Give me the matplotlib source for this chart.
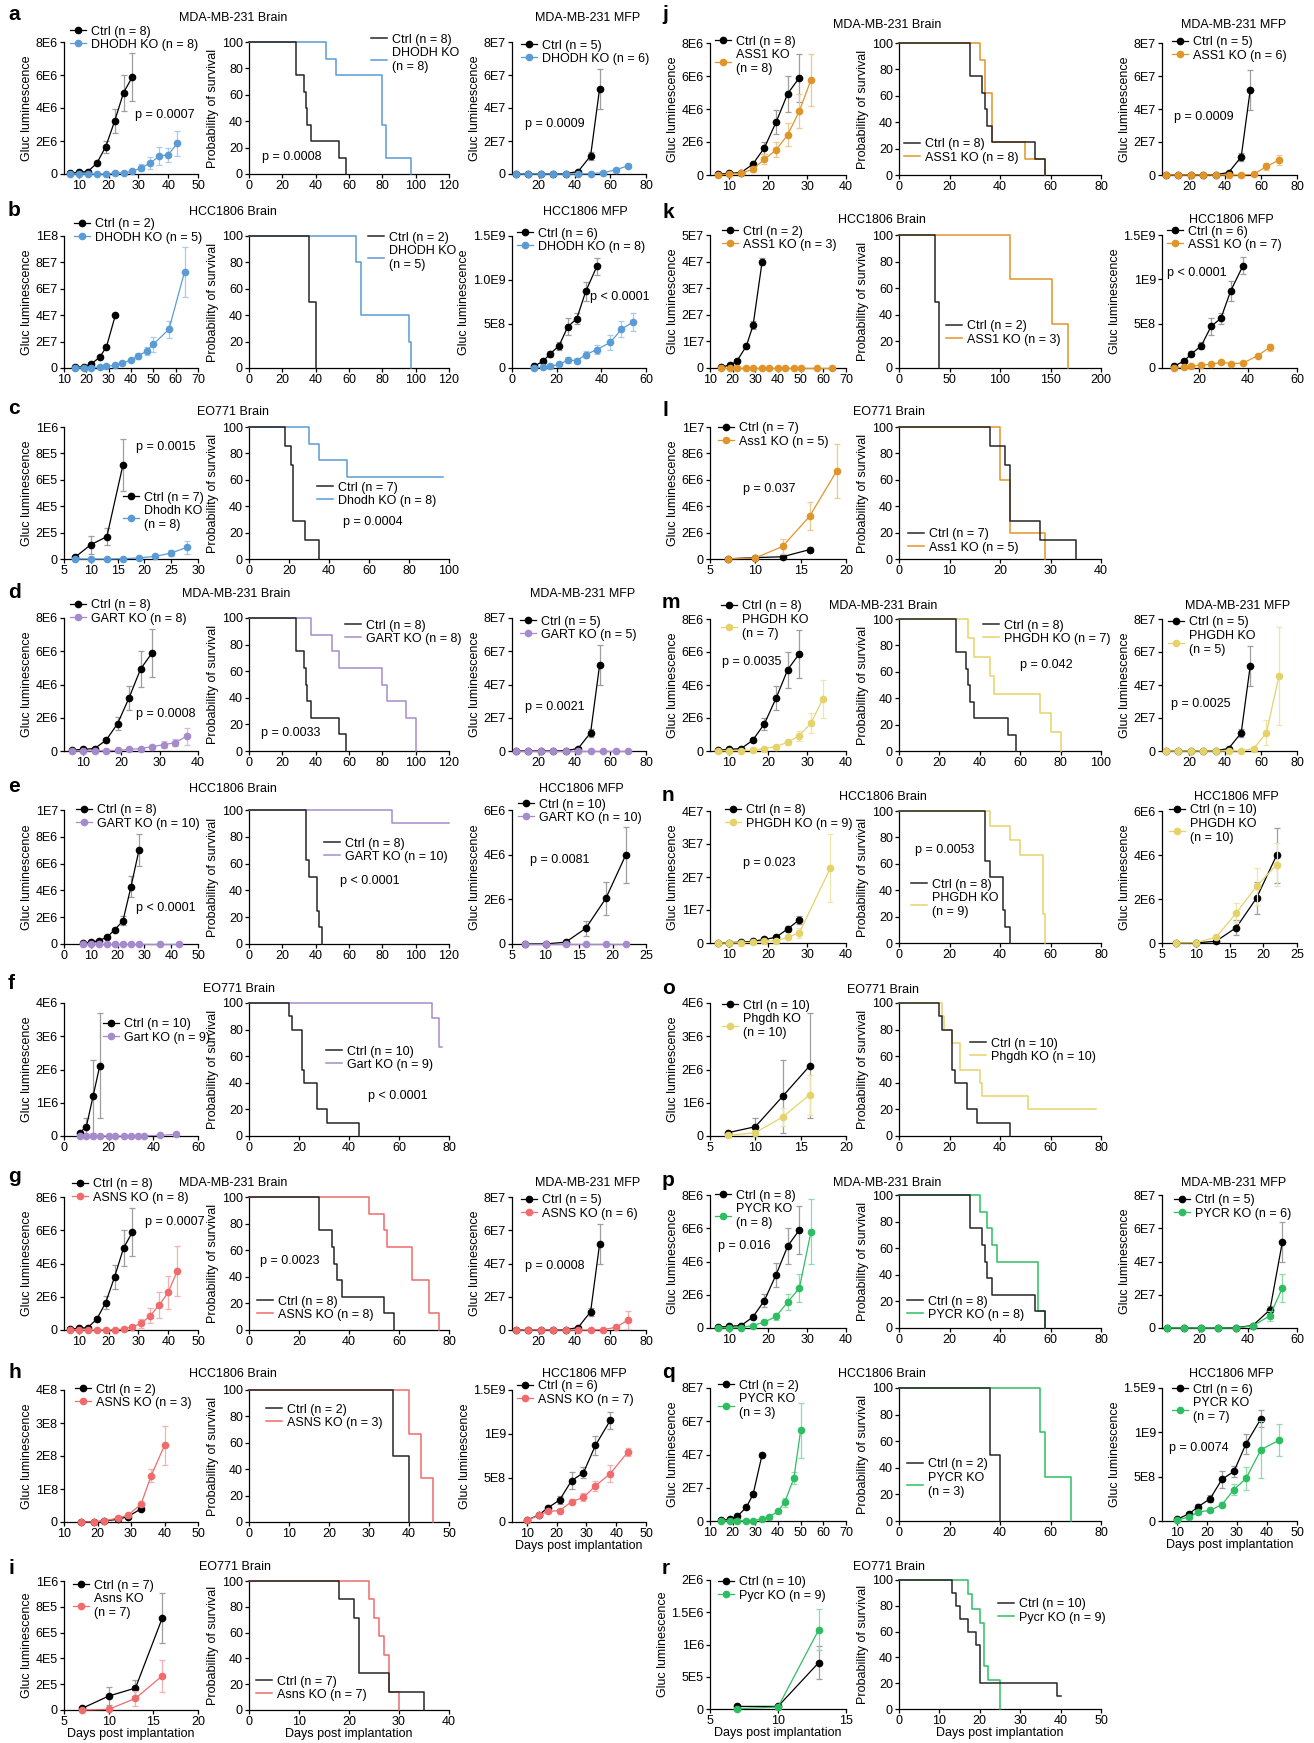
import matplotlib
matplotlib.use('Agg')
import matplotlib.pyplot as plt
from matplotlib.lines import Line2D

plt.rcParams['font.family'] = ['Liberation Sans', 'DejaVu Sans']
FS = 9.0
W, H = 1314, 1743
fig = plt.figure(figsize=(W / 100, H / 100), dpi=100)

# ======================= DATA =======================
# --- MDA-MB-231 brain growth (units of 1E6) ---
mda_br_ctrl_day = [7, 10, 13, 16, 19, 22, 25, 28]
mda_br_ctrl_mean = [0.05, 0.1, 0.15, 0.65, 1.65, 3.2, 4.93, 5.9]
mda_br_ctrl_err = [0.02, 0.04, 0.06, 0.12, 0.38, 0.72, 1.1, 1.45]
dhodh_mda_br_day = [7, 10, 13, 16, 19, 22, 25, 28, 31, 34, 37, 40, 43]
dhodh_mda_br_mean = [0, 0, 0, 0, 0, 0.04, 0.08, 0.16, 0.38, 0.67, 1.09, 1.17, 1.85]
dhodh_mda_br_err = [0, 0, 0, 0, 0, 0.01, 0.02, 0.05, 0.2, 0.35, 0.55, 0.42, 0.75]
gart_mda_br_day = [7, 10, 13, 16, 19, 22, 25, 28, 31, 34, 37]
gart_mda_br_mean = [0, 0, 0, 0.02, 0.04, 0.1, 0.14, 0.26, 0.38, 0.5, 0.89]
gart_mda_br_err = [0, 0, 0, 0.01, 0.02, 0.03, 0.05, 0.1, 0.2, 0.22, 0.5]
asns_mda_br_day = [7, 10, 13, 16, 19, 22, 25, 28, 31, 34, 37, 40, 43]
asns_mda_br_mean = [0, 0, 0, 0, 0, 0.02, 0.05, 0.2, 0.4, 0.87, 1.5, 2.27, 3.54]
asns_mda_br_err = [0, 0, 0, 0, 0, 0.01, 0.02, 0.1, 0.25, 0.45, 0.77, 1.0, 1.5]
ass1_mda_br_day = [7, 10, 13, 16, 19, 22, 25, 28, 31]
ass1_mda_br_mean = [0.01, 0.05, 0.1, 0.35, 0.95, 1.52, 2.44, 3.88, 5.78]
ass1_mda_br_err = [0.01, 0.02, 0.04, 0.15, 0.3, 0.45, 0.7, 1.05, 1.58]
phgdh_mda_br_day = [7, 10, 13, 16, 19, 22, 25, 28, 31, 34]
phgdh_mda_br_mean = [0, 0.02, 0.03, 0.06, 0.15, 0.27, 0.53, 0.93, 1.7, 3.13]
phgdh_mda_br_err = [0, 0.01, 0.01, 0.02, 0.05, 0.08, 0.15, 0.3, 0.62, 1.15]
pycr_mda_br_day = [7, 10, 13, 16, 19, 22, 25, 28, 31]
pycr_mda_br_mean = [0.01, 0.01, 0.02, 0.15, 0.35, 0.7, 1.56, 2.4, 5.8]
pycr_mda_br_err = [0.01, 0.01, 0.01, 0.05, 0.1, 0.2, 0.5, 0.82, 1.95]

# --- MDA-MB-231 MFP growth (units of 1E7) ---
mda_mfp_ctrl_day = [7, 14, 21, 28, 35, 42, 49, 54]
mda_mfp_ctrl_mean = [0, 0, 0, 0, 0.02, 0.15, 1.1, 5.15]
mda_mfp_ctrl_err = [0, 0, 0, 0, 0.01, 0.05, 0.25, 1.2]
mda_mfp_ko_day = [7, 14, 21, 28, 35, 42, 49, 56, 63, 70]
dhodh_mda_mfp_mean = [0, 0, 0, 0, 0, 0, 0.02, 0.08, 0.25, 0.5]
dhodh_mda_mfp_err = [0, 0, 0, 0, 0, 0, 0.01, 0.03, 0.07, 0.12]
gart_mda_mfp_mean = [0, 0, 0, 0, 0, 0, 0, 0, 0, 0]
gart_mda_mfp_err = [0, 0, 0, 0, 0, 0, 0, 0, 0, 0]
asns_mda_mfp_mean = [0, 0, 0, 0, 0, 0, 0, 0.02, 0.16, 0.6]
asns_mda_mfp_err = [0, 0, 0, 0, 0, 0, 0, 0.01, 0.05, 0.55]
ass1_mda_mfp_mean = [0, 0, 0, 0, 0, 0, 0, 0.04, 0.52, 0.9]
ass1_mda_mfp_err = [0, 0, 0, 0, 0, 0, 0, 0.02, 0.22, 0.3]
phgdh_mda_mfp_mean = [0, 0, 0, 0, 0, 0, 0, 0.15, 1.1, 4.55]
phgdh_mda_mfp_err = [0, 0, 0, 0, 0, 0, 0, 0.05, 0.75, 2.95]
pycr_mda_mfp_day = [7, 14, 21, 28, 35, 42, 49, 54]
pycr_mda_mfp_mean = [0, 0, 0, 0, 0, 0.12, 0.75, 2.4]
pycr_mda_mfp_err = [0, 0, 0, 0, 0, 0.05, 0.3, 0.82]

# --- HCC1806 brain growth, Ctrl n = 2 (units of 1E7) ---
hcc_br_ctrl_day = [15, 19, 22, 26, 29, 33]
hcc_br_ctrl_mean = [0.05, 0.1, 0.28, 0.82, 1.6, 4.0]
hcc_br_ctrl_err = [0.02, 0.03, 0.05, 0.08, 0.15, 0.12]
dhodh_hcc_br_day = [15, 19, 22, 26, 29, 33, 36, 40, 43, 47, 50, 57, 64]
dhodh_hcc_br_mean = [0, 0.02, 0.03, 0.08, 0.15, 0.2, 0.38, 0.6, 0.9, 1.27, 1.8, 2.94, 7.3]
dhodh_hcc_br_err = [0, 0.01, 0.01, 0.02, 0.03, 0.05, 0.08, 0.1, 0.2, 0.3, 0.55, 0.65, 1.9]
asns_hcc_br_day = [15, 19, 22, 26, 29, 33, 36, 40]
asns_hcc_br_mean = [0, 0.05, 0.3, 1.2, 2.0, 5.4, 14.0, 23.2]
asns_hcc_br_err = [0, 0.02, 0.1, 0.3, 0.4, 0.5, 2.0, 6.0]
ass1_hcc_br_day = [15, 19, 22, 26, 29, 33, 36, 40, 43, 47, 50, 57, 64]
ass1_hcc_br_mean = [0, 0, 0, 0, 0, 0, 0, 0, 0, 0, 0, 0, 0]
ass1_hcc_br_err = [0, 0, 0, 0, 0, 0, 0, 0, 0, 0, 0, 0, 0]
pycr_hcc_br_day = [15, 19, 22, 26, 29, 33, 36, 40, 43, 47, 50]
pycr_hcc_br_mean = [0, 0, 0, 0.01, 0.03, 0.12, 0.24, 0.58, 1.14, 2.58, 5.45]
pycr_hcc_br_err = [0, 0, 0, 0, 0.01, 0.03, 0.05, 0.1, 0.27, 0.38, 1.65]

# --- HCC1806 MFP growth, Ctrl n = 6 (units of 1E9) ---
hcc_mfp_ctrl_day = [10, 14, 17, 21, 25, 29, 33, 38]
hcc_mfp_ctrl_mean = [0.02, 0.08, 0.16, 0.25, 0.47, 0.56, 0.87, 1.155]
hcc_mfp_ctrl_err = [0.01, 0.015, 0.03, 0.04, 0.095, 0.065, 0.11, 0.1]
dhodh_hcc_mfp_day = [10, 14, 17, 21, 25, 29, 33, 38, 44, 49, 54]
dhodh_hcc_mfp_mean = [0, 0.01, 0.02, 0.04, 0.09, 0.085, 0.15, 0.21, 0.29, 0.44, 0.52]
dhodh_hcc_mfp_err = [0, 0.005, 0.01, 0.01, 0.03, 0.03, 0.04, 0.05, 0.08, 0.09, 0.1]
asns_hcc_mfp_day = [10, 14, 17, 21, 25, 29, 33, 38, 44]
asns_hcc_mfp_mean = [0.02, 0.075, 0.12, 0.13, 0.23, 0.28, 0.41, 0.55, 0.8]
asns_hcc_mfp_err = [0.01, 0.01, 0.02, 0.02, 0.03, 0.045, 0.06, 0.1, 0.045]
ass1_hcc_mfp_day = [10, 14, 17, 21, 25, 29, 33, 38, 44, 49]
ass1_hcc_mfp_mean = [0, 0.01, 0.02, 0.035, 0.04, 0.065, 0.05, 0.055, 0.14, 0.235]
ass1_hcc_mfp_err = [0, 0, 0.005, 0.01, 0.01, 0.015, 0.01, 0.01, 0.02, 0.04]
pycr_hcc_mfp_day = [10, 14, 17, 21, 25, 29, 33, 38, 44]
pycr_hcc_mfp_mean = [0.01, 0.045, 0.1, 0.12, 0.185, 0.355, 0.48, 0.805, 0.91]
pycr_hcc_mfp_err = [0.005, 0.01, 0.02, 0.02, 0.03, 0.06, 0.13, 0.32, 0.18]

# --- EO771 brain growth, Ctrl n = 7 (units of 1E6) ---
eo7_ctrl_day = [7, 10, 13, 16]
eo7_ctrl_mean = [0.012, 0.108, 0.17, 0.713]
eo7_ctrl_err = [0.005, 0.07, 0.065, 0.195]
dhodh_eo_day = [7, 10, 13, 16, 19, 22, 25, 28]
dhodh_eo_mean = [0, 0, 0, 0.002, 0.008, 0.02, 0.045, 0.09]
dhodh_eo_err = [0, 0, 0, 0.001, 0.003, 0.008, 0.02, 0.05]
asns_eo_day = [7, 10, 13, 16]
asns_eo_mean = [0, 0.005, 0.09, 0.265]
asns_eo_err = [0, 0.005, 0.06, 0.125]
ass1_eo_day = [7, 10, 13, 16, 19]
ass1_eo_mean = [0.01, 0.08, 0.95, 3.25, 6.7]
ass1_eo_err = [0.005, 0.03, 0.6, 1.07, 2.05]

# --- EO771 brain growth, Ctrl n = 10 (units of 1E6) ---
eo10_ctrl_day = [7, 10, 13, 16]
eo10_ctrl_mean = [0.1, 0.28, 1.19, 2.11]
eo10_ctrl_err = [0.03, 0.25, 1.09, 1.58]
gart_eo_day = [7, 10, 13, 16, 20, 23, 27, 30, 33, 36, 43, 50]
gart_eo_mean = [0, 0, 0, 0, 0, 0, 0, 0, 0, 0.01, 0.02, 0.05]
gart_eo_err = [0, 0, 0, 0, 0, 0, 0, 0, 0, 0.005, 0.01, 0.02]
phgdh_eo_day = [7, 10, 13, 16]
phgdh_eo_mean = [0.02, 0.1, 0.57, 1.24]
phgdh_eo_err = [0.01, 0.05, 0.27, 0.6]
eor_ctrl_day = [7, 10, 13]
eor_ctrl_mean = [0.04, 0.04, 0.72]
eor_ctrl_err = [0.01, 0.01, 0.26]
pycr_eo_day = [7, 10, 13]
pycr_eo_mean = [0.005, 0.03, 1.23]
pycr_eo_err = [0.003, 0.01, 0.32]

# --- HCC1806 brain growth, Ctrl n = 8 (units of 1E6) ---
hcc8_ctrl_day = [7, 10, 13, 16, 19, 22, 25, 28]
hcc8_ctrl_mean = [0.07, 0.12, 0.25, 0.5, 1.08, 1.73, 4.28, 7.03]
hcc8_ctrl_err = [0.02, 0.03, 0.05, 0.1, 0.15, 0.33, 0.8, 1.2]
gart_hcc_br_day = [7, 10, 13, 16, 19, 22, 25, 28, 36, 43]
gart_hcc_br_mean = [0, 0, 0, 0, 0, 0, 0, 0, 0, 0]
gart_hcc_br_err = [0, 0, 0, 0, 0, 0, 0, 0, 0, 0]
phgdh_hcc_br_day = [7, 10, 13, 16, 19, 22, 25, 28, 36]
phgdh_hcc_br_mean = [0, 0, 0.1, 0.2, 0.5, 0.7, 1.7, 3.1, 22.8]
phgdh_hcc_br_err = [0, 0, 0.02, 0.05, 0.1, 0.15, 0.4, 1.5, 10.3]

# --- HCC1806 MFP growth, Ctrl n = 10 (units of 1E6) ---
hcc10_mfp_ctrl_day = [7, 10, 13, 16, 19, 22]
hcc10_mfp_ctrl_mean = [0, 0.005, 0.08, 0.7, 2.04, 4.0]
hcc10_mfp_ctrl_err = [0, 0.002, 0.03, 0.34, 0.72, 1.25]
gart_hcc_mfp_mean = [0, 0, 0, 0, 0, 0]
gart_hcc_mfp_err = [0, 0, 0, 0, 0, 0]
phgdh_hcc_mfp_mean = [0, 0.01, 0.26, 1.36, 2.58, 3.56]
phgdh_hcc_mfp_err = [0, 0.005, 0.08, 0.47, 0.85, 0.98]

# --- Survival (day, % surviving) ---
mda_ctrl_st = [0, 28, 33, 34, 35, 37, 54, 58]
mda_ctrl_sv = [100, 75, 62.5, 50, 37.5, 25, 12.5, 0]
dhodh_mda_st = [0, 46, 52, 80, 82, 97]
dhodh_mda_sv = [100, 87.5, 75, 37.5, 12.5, 0]
gart_mda_st = [0, 37, 50, 54, 80, 83, 94, 100]
gart_mda_sv = [100, 87.5, 75, 62.5, 50, 37.5, 25, 0]
asns_mda_st = [0, 48, 54, 55, 65, 72, 76]
asns_mda_sv = [100, 87.5, 75, 62.5, 37.5, 12.5, 0]
ass1_mda_st = [0, 32, 34, 37, 50, 58]
ass1_mda_sv = [100, 87.5, 62.5, 25, 12.5, 0]
phgdh_mda_st = [0, 34, 37, 45, 47, 70, 75, 80]
phgdh_mda_sv = [100, 85.7, 71.4, 57.1, 42.9, 28.6, 14.3, 0]
pycr_mda_st = [0, 32, 35, 37, 39, 55, 58]
pycr_mda_sv = [100, 87.5, 75, 62.5, 50, 12.5, 0]

hcc2_ctrl_st = [0, 36, 40]
hcc2_ctrl_sv = [100, 50, 0]
dhodh_hcc_st = [0, 64, 67, 96, 97]
dhodh_hcc_sv = [100, 80, 40, 20, 0]
asns_hcc_st = [0, 40, 43, 46]
asns_hcc_sv = [100, 66.7, 33.3, 0]
ass1_hcc_st = [0, 110, 151, 167]
ass1_hcc_sv = [100, 66.7, 33.3, 0]
pycr_hcc_st = [0, 56, 58, 68]
pycr_hcc_sv = [100, 66.7, 33.3, 0]

eo7_ctrl_st = [0, 18, 21, 22, 28, 35]
eo7_ctrl_sv = [100, 85.7, 71.4, 28.6, 14.3, 0]
dhodh_eo_st = [0, 30, 35, 49, 97]
dhodh_eo_sv = [100, 87.5, 75, 62.5, 62.5]
asns_eo_st = [0, 24, 25, 26, 27, 28, 30]
asns_eo_sv = [100, 85.7, 71.4, 57.1, 42.9, 14.3, 0]
ass1_eo_st = [0, 20, 22, 29]
ass1_eo_sv = [100, 60, 20, 0]

hcc8_ctrl_st = [0, 34, 36, 41, 42, 44]
hcc8_ctrl_sv = [100, 62.5, 50, 25, 12.5, 0]
gart_hcc_st = [0, 86, 120]
gart_hcc_sv = [100, 90, 90]
phgdh_hcc_st = [0, 36, 44, 48, 57, 58]
phgdh_hcc_sv = [100, 88.9, 77.8, 66.7, 22.2, 0]

eo10_ctrl_st = [0, 16, 17, 21, 22, 27, 31, 44]
eo10_ctrl_sv = [100, 90, 80, 50, 40, 20, 10, 0]
gart_eo_st = [0, 73, 76, 77]
gart_eo_sv = [100, 88.9, 66.7, 66.7]
phgdh_eo_st = [0, 17, 18, 21, 24, 32, 33, 51, 78]
phgdh_eo_sv = [100, 90, 80, 70, 50, 40, 30, 20, 20]
eor_ctrl_st = [0, 13, 14, 15, 17, 19, 20, 39, 40]
eor_ctrl_sv = [100, 90, 80, 70, 60, 50, 20, 10, 10]
pycr_eo_st = [0, 17, 18, 20, 21, 22, 25]
pycr_eo_sv = [100, 88.9, 77.8, 66.7, 33.3, 22.2, 0]

# --- tick labels ---
yl_8e6 = ['0', '2E6', '4E6', '6E6', '8E6']
yl_8e7 = ['0', '2E7', '4E7', '6E7', '8E7']
yl_1e8 = ['0', '2E7', '4E7', '6E7', '8E7', '1E8']
yl_15e9a = ['0', '5E8', '1.0E9', '1.5E9']
yl_15e9b = ['0', '5E8', '1E9', '1.5E9']
yl_1e6 = ['0', '2E5', '4E5', '6E5', '8E5', '1E6']
yl_1e7 = ['0', '2E6', '4E6', '6E6', '8E6', '1E7']
yl_6e6 = ['0', '2E6', '4E6', '6E6']
yl_4e6 = ['0', '1E6', '2E6', '3E6', '4E6']
yl_4e8 = ['0', '1E8', '2E8', '3E8', '4E8']
yl_5e7 = ['0', '1E7', '2E7', '3E7', '4E7', '5E7']
yl_4e7 = ['0', '1E7', '2E7', '3E7', '4E7']
yl_2e6 = ['0', '5E5', '1E6', '1.5E6', '2E6']

# ======================= STYLE =======================
BLUE, BLUE_E = '#5B9BD5', '#A9CBEA'
PURP, PURP_E = '#A58BCB', '#CDBFE3'
RED, RED_E = '#F06B6B', '#F7AFAF'
ORNG, ORNG_E = '#E0952A', '#EFC88E'
YELL, YELL_E = '#E5D36A', '#F0E6A8'
GRN, GRN_E = '#2EBE62', '#8FDCAA'
CTRL_ERR = '#9E9E9E'
CTRL_LINE = '#262626'
MS = 4.5


def px_ax(x0, x1, top, bot):
    return fig.add_axes([x0 / W, 1 - bot / H, (x1 - x0) / W, (bot - top) / H])


def style(ax):
    ax.spines['top'].set_visible(False)
    ax.spines['right'].set_visible(False)
    for s in ('left', 'bottom'):
        ax.spines[s].set_linewidth(0.9)
    ax.tick_params(direction='out', length=3.2, width=0.9, labelsize=FS, pad=1.2)


def legend(ax, handles, labels, xy):
    ax.legend(handles, labels, loc='upper left',
              bbox_to_anchor=(xy[0] / W, 1 - (xy[1] - 7.5) / H),
              bbox_transform=fig.transFigure, frameon=False, fontsize=FS,
              borderpad=0, borderaxespad=0, handlelength=1.3,
              handletextpad=0.4, labelspacing=0.1)


def ptext(p):
    if p:
        fig.text(p[1][0] / W, 1 - p[1][1] / H, p[0], ha='left', va='center', fontsize=FS)


def growth(box, ctrl, ko, col, ecol, labs, xlim, xticks, yticks, ylabs, leg, p=None, xlabel=False):
    ax = px_ax(*box)
    for (x, m, e), lc, le, z in ((ctrl, 'black', CTRL_ERR, 3), (ko, col, ecol, 4)):
        ax.errorbar(x, m, yerr=e, fmt='none', ecolor=le, elinewidth=0.9,
                    capsize=2.2, capthick=0.9, zorder=z, clip_on=False)
        ax.plot(x, m, color=lc, marker='o', ms=MS, lw=0.9, zorder=z + 0.5, clip_on=False)
    ax.set_xlim(*xlim)
    ax.set_xticks(xticks)
    ax.set_ylim(0, yticks[-1])
    ax.set_yticks(yticks)
    ax.set_yticklabels(ylabs)
    ax.set_ylabel('Gluc luminescence', fontsize=FS, labelpad=2)
    style(ax)
    hs = [Line2D([], [], color='black', marker='o', ms=MS, lw=0.9),
          Line2D([], [], color=col, marker='o', ms=MS, lw=0.9)]
    legend(ax, hs, labs, leg)
    ptext(p)
    if xlabel:
        ax.set_xlabel('Days post implantation', fontsize=FS, labelpad=0)
    return ax


def survival(box, ctrl, ko, col, labs, xlim, xticks, leg, p=None, xlabel=False):
    ax = px_ax(*box)
    ax.step(ko[0], ko[1], where='post', color=col, lw=1.1, clip_on=False, zorder=3)
    ax.step(ctrl[0], ctrl[1], where='post', color=CTRL_LINE, lw=1.1, clip_on=False, zorder=4)
    ax.set_xlim(*xlim)
    ax.set_xticks(xticks)
    ax.set_ylim(0, 100)
    ax.set_yticks([0, 20, 40, 60, 80, 100])
    ax.set_ylabel('Probability of survival', fontsize=FS, labelpad=2)
    style(ax)
    hs = [Line2D([], [], color=CTRL_LINE, lw=1.1), Line2D([], [], color=col, lw=1.1)]
    legend(ax, hs, labs, leg)
    ptext(p)
    if xlabel:
        ax.set_xlabel('Days post implantation', fontsize=FS, labelpad=0)
    return ax


def label(x, y, s):
    fig.text(x / W, 1 - y / H, s, ha='left', va='center', fontsize=15, fontweight='bold')


def title(x, y, s):
    fig.text(x / W, 1 - y / H, s, ha='center', va='center', fontsize=FS)


# grouped series
MDA_BR = (mda_br_ctrl_day, mda_br_ctrl_mean, mda_br_ctrl_err)
MDA_MFP = (mda_mfp_ctrl_day, mda_mfp_ctrl_mean, mda_mfp_ctrl_err)
HCC_BR = (hcc_br_ctrl_day, hcc_br_ctrl_mean, hcc_br_ctrl_err)
HCC_MFP = (hcc_mfp_ctrl_day, hcc_mfp_ctrl_mean, hcc_mfp_ctrl_err)
EO7 = (eo7_ctrl_day, eo7_ctrl_mean, eo7_ctrl_err)
EO10 = (eo10_ctrl_day, eo10_ctrl_mean, eo10_ctrl_err)
HCC8 = (hcc8_ctrl_day, hcc8_ctrl_mean, hcc8_ctrl_err)
HCC10M = (hcc10_mfp_ctrl_day, hcc10_mfp_ctrl_mean, hcc10_mfp_ctrl_err)
S_MDA = (mda_ctrl_st, mda_ctrl_sv)
S_HCC2 = (hcc2_ctrl_st, hcc2_ctrl_sv)
S_EO7 = (eo7_ctrl_st, eo7_ctrl_sv)
S_HCC8 = (hcc8_ctrl_st, hcc8_ctrl_sv)
S_EO10 = (eo10_ctrl_st, eo10_ctrl_sv)

LG, LS, LM = (64, 198), (249, 449), (512, 646)
RG, RS, RM = (710, 846), (899, 1101), (1162, 1297)
X10_50 = [10, 20, 30, 40, 50]
X10_40 = [10, 20, 30, 40]
X20_80 = [20, 40, 60, 80]
S120 = [0, 20, 40, 60, 80, 100, 120]
S100 = [0, 20, 40, 60, 80, 100]
S80 = [0, 20, 40, 60, 80]
Y8 = [0, 2, 4, 6, 8]

# ======================= LEFT COLUMN =======================
# a
r = (42, 174)
label(8, 15, 'a'); title(233, 18, 'MDA-MB-231 Brain'); title(588, 18, 'MDA-MB-231 MFP')
growth(LG + r, MDA_BR, (dhodh_mda_br_day, dhodh_mda_br_mean, dhodh_mda_br_err), BLUE, BLUE_E,
       ['Ctrl (n = 8)', 'DHODH KO (n = 8)'], (5, 50), X10_50, Y8, yl_8e6, (70, 33), ('p = 0.0007', (135, 115)))
survival(LS + r, S_MDA, (dhodh_mda_st, dhodh_mda_sv), BLUE, ['Ctrl (n = 8)', 'DHODH KO\n(n = 8)'],
         (0, 120), S120, (371, 41), ('p = 0.0008', (262, 157)))
growth(LM + r, MDA_MFP, (mda_mfp_ko_day, dhodh_mda_mfp_mean, dhodh_mda_mfp_err), BLUE, BLUE_E,
       ['Ctrl (n = 5)', 'DHODH KO (n = 6)'], (5, 80), X20_80, Y8, yl_8e7, (521, 47), ('p = 0.0009', (525, 124)))
# b
r = (236, 368)
label(8, 210, 'b'); title(233, 212, 'HCC1806 Brain'); title(585, 212, 'HCC1806 MFP')
growth(LG + r, HCC_BR, (dhodh_hcc_br_day, dhodh_hcc_br_mean, dhodh_hcc_br_err), BLUE, BLUE_E,
       ['Ctrl (n = 2)', 'DHODH KO (n = 5)'], (10, 70), [10, 20, 30, 40, 50, 60, 70], [0, 2, 4, 6, 8, 10], yl_1e8, (74, 226))
survival(LS + r, S_HCC2, (dhodh_hcc_st, dhodh_hcc_sv), BLUE, ['Ctrl (n = 2)', 'DHODH KO\n(n = 5)'],
         (0, 120), S120, (368, 239))
growth(LM + r, HCC_MFP, (dhodh_hcc_mfp_day, dhodh_hcc_mfp_mean, dhodh_hcc_mfp_err), BLUE, BLUE_E,
       ['Ctrl (n = 6)', 'DHODH KO (n = 8)'], (0, 60), [0, 20, 40, 60], [0, 0.5, 1.0, 1.5], yl_15e9a, (517, 235),
       ('p < 0.0001', (590, 297)))
# c
r = (427, 559)
label(8, 408, 'c'); title(233, 412, 'EO771 Brain')
growth(LG + r, EO7, (dhodh_eo_day, dhodh_eo_mean, dhodh_eo_err), BLUE, BLUE_E,
       ['Ctrl (n = 7)', 'Dhodh KO\n(n = 8)'], (5, 30), [5, 10, 15, 20, 25, 30], [0, 0.2, 0.4, 0.6, 0.8, 1.0], yl_1e6,
       (123, 499), ('p = 0.0015', (136, 447)))
survival(LS + r, S_EO7, (dhodh_eo_st, dhodh_eo_sv), BLUE, ['Ctrl (n = 7)', 'Dhodh KO (n = 8)'],
         (0, 100), S100, (317, 489), ('p = 0.0004', (343, 522)))
# d
r = (618, 751)
label(8, 593, 'd'); title(236, 594, 'MDA-MB-231 Brain'); title(583, 594, 'MDA-MB-231 MFP')
growth(LG + r, MDA_BR, (gart_mda_br_day, gart_mda_br_mean, gart_mda_br_err), PURP, PURP_E,
       ['Ctrl (n = 8)', 'GART KO (n = 8)'], (5, 40), X10_40, Y8, yl_8e6, (70, 607), ('p = 0.0008', (136, 714)))
survival(LS + r, S_MDA, (gart_mda_st, gart_mda_sv), PURP, ['Ctrl (n = 8)', 'GART KO (n = 8)'],
         (0, 120), S120, (345, 627), ('p = 0.0033', (261, 733)))
growth(LM + r, MDA_MFP, (mda_mfp_ko_day, gart_mda_mfp_mean, gart_mda_mfp_err), PURP, PURP_E,
       ['Ctrl (n = 5)', 'GART KO (n = 5)'], (5, 80), X20_80, Y8, yl_8e7, (520, 623), ('p = 0.0021', (525, 707)))
# e
r = (810, 944)
label(8, 787, 'e'); title(233, 789, 'HCC1806 Brain'); title(581, 789, 'HCC1806 MFP')
growth(LG + r, HCC8, (gart_hcc_br_day, gart_hcc_br_mean, gart_hcc_br_err), PURP, PURP_E,
       ['Ctrl (n = 8)', 'GART KO (n = 10)'], (0, 50), [0, 10, 20, 30, 40, 50], [0, 2, 4, 6, 8, 10], yl_1e7,
       (76, 812), ('p < 0.0001', (136, 908)))
survival(LS + r, S_HCC8, (gart_hcc_st, gart_hcc_sv), PURP, ['Ctrl (n = 8)', 'GART KO (n = 10)'],
         (0, 120), S120, (324, 845), ('p < 0.0001', (340, 881)))
growth(LM + r, HCC10M, (hcc10_mfp_ctrl_day, gart_hcc_mfp_mean, gart_hcc_mfp_err), PURP, PURP_E,
       ['Ctrl (n = 10)', 'GART KO (n = 10)'], (5, 25), [5, 10, 15, 20, 25], [0, 2, 4, 6], yl_6e6, (518, 806),
       ('p = 0.0081', (530, 860)))
# f
r = (1003, 1136)
label(8, 984, 'f'); title(239, 989, 'EO771 Brain')
growth(LG + r, EO10, (gart_eo_day, gart_eo_mean, gart_eo_err), PURP, PURP_E,
       ['Ctrl (n = 10)', 'Gart KO (n = 9)'], (0, 60), [0, 20, 40, 60], [0, 1, 2, 3, 4], yl_4e6, (103, 1026))
survival(LS + r, S_EO10, (gart_eo_st, gart_eo_sv), PURP, ['Ctrl (n = 10)', 'Gart KO (n = 9)'],
         (0, 80), S80, (326, 1053), ('p < 0.0001', (368, 1096)))
# g
r = (1197, 1330)
label(8, 1177, 'g'); title(233, 1183, 'MDA-MB-231 Brain'); title(588, 1183, 'MDA-MB-231 MFP')
growth(LG + r, MDA_BR, (asns_mda_br_day, asns_mda_br_mean, asns_mda_br_err), RED, RED_E,
       ['Ctrl (n = 8)', 'ASNS KO (n = 8)'], (5, 50), X10_50, Y8, yl_8e6, (72, 1186), ('p = 0.0007', (145, 1222)))
survival(LS + r, S_MDA, (asns_mda_st, asns_mda_sv), RED, ['Ctrl (n = 8)', 'ASNS KO (n = 8)'],
         (0, 80), S80, (257, 1303), ('p = 0.0023', (260, 1261)))
growth(LM + r, MDA_MFP, (mda_mfp_ko_day, asns_mda_mfp_mean, asns_mda_mfp_err), RED, RED_E,
       ['Ctrl (n = 5)', 'ASNS KO (n = 6)'], (5, 80), X20_80, Y8, yl_8e7, (521, 1202), ('p = 0.0008', (525, 1266)))
# h
r = (1390, 1522)
label(8, 1372, 'h'); title(233, 1374, 'HCC1806 Brain'); title(584, 1374, 'HCC1806 MFP')
growth(LG + r, HCC_BR, (asns_hcc_br_day, asns_hcc_br_mean, asns_hcc_br_err), RED, RED_E,
       ['Ctrl (n = 2)', 'ASNS KO (n = 3)'], (10, 50), X10_50, [0, 10, 20, 30, 40], yl_4e8, (75, 1391))
survival(LS + r, S_HCC2, (asns_hcc_st, asns_hcc_sv), RED, ['Ctrl (n = 2)', 'ASNS KO (n = 3)'],
         (0, 50), [0, 10, 20, 30, 40, 50], (266, 1411))
growth(LM + r, HCC_MFP, (asns_hcc_mfp_day, asns_hcc_mfp_mean, asns_hcc_mfp_err), RED, RED_E,
       ['Ctrl (n = 6)', 'ASNS KO (n = 7)'], (5, 50), X10_50, [0, 0.5, 1.0, 1.5], yl_15e9b, (517, 1388), xlabel=True)
# i
r = (1581, 1710)
label(8, 1568, 'i'); title(235, 1567, 'EO771 Brain')
growth(LG + r, EO7, (asns_eo_day, asns_eo_mean, asns_eo_err), RED, RED_E,
       ['Ctrl (n = 7)', 'Asns KO\n(n = 7)'], (5, 20), [5, 10, 15, 20], [0, 0.2, 0.4, 0.6, 0.8, 1.0], yl_1e6,
       (73, 1587), xlabel=True)
survival(LS + r, S_EO7, (asns_eo_st, asns_eo_sv), RED, ['Ctrl (n = 7)', 'Asns KO (n = 7)'],
         (0, 40), [0, 10, 20, 30, 40], (256, 1683), xlabel=True)

# ======================= RIGHT COLUMN =======================
# j
r = (43, 175)
label(662, 15, 'j'); title(887, 25, 'MDA-MB-231 Brain'); title(1234, 25, 'MDA-MB-231 MFP')
growth(RG + r, MDA_BR, (ass1_mda_br_day, ass1_mda_br_mean, ass1_mda_br_err), ORNG, ORNG_E,
       ['Ctrl (n = 8)', 'ASS1 KO\n(n = 8)'], (5, 40), X10_40, Y8, yl_8e6, (715, 43))
survival(RS + r, S_MDA, (ass1_mda_st, ass1_mda_sv), ORNG, ['Ctrl (n = 8)', 'ASS1 KO (n = 8)'],
         (0, 80), S80, (904, 146))
growth(RM + r, MDA_MFP, (mda_mfp_ko_day, ass1_mda_mfp_mean, ass1_mda_mfp_err), ORNG, ORNG_E,
       ['Ctrl (n = 5)', 'ASS1 KO (n = 6)'], (5, 80), X20_80, Y8, yl_8e7, (1172, 44), ('p = 0.0009', (1174, 117)))
# k
r = (235, 368)
label(662, 212, 'k'); title(882, 220, 'HCC1806 Brain'); title(1231, 220, 'HCC1806 MFP')
growth(RG + r, HCC_BR, (ass1_hcc_br_day, ass1_hcc_br_mean, ass1_hcc_br_err), ORNG, ORNG_E,
       ['Ctrl (n = 2)', 'ASS1 KO (n = 3)'], (10, 70), [10, 20, 30, 40, 50, 60, 70], [0, 1, 2, 3, 4, 5], yl_5e7, (722, 233))
survival(RS + r, S_HCC2, (ass1_hcc_st, ass1_hcc_sv), ORNG, ['Ctrl (n = 2)', 'ASS1 KO (n = 3)'],
         (0, 200), [0, 50, 100, 150, 200], (946, 328))
growth(RM + r, HCC_MFP, (ass1_hcc_mfp_day, ass1_hcc_mfp_mean, ass1_hcc_mfp_err), ORNG, ORNG_E,
       ['Ctrl (n = 6)', 'ASS1 KO (n = 7)'], (5, 60), [20, 40, 60], [0, 0.5, 1.0, 1.5], yl_15e9b, (1167, 233),
       ('p < 0.0001', (1167, 273)))
# l
r = (427, 559)
label(662, 411, 'l'); title(889, 412, 'EO771 Brain')
growth(RG + r, EO7, (ass1_eo_day, ass1_eo_mean, ass1_eo_err), ORNG, ORNG_E,
       ['Ctrl (n = 7)', 'Ass1 KO (n = 5)'], (5, 20), [5, 10, 15, 20], [0, 2, 4, 6, 8, 10], yl_1e7, (718, 430),
       ('p = 0.037', (743, 489)))
survival(RS + r, S_EO7, (ass1_eo_st, ass1_eo_sv), ORNG, ['Ctrl (n = 7)', 'Ass1 KO (n = 5)'],
         (0, 40), [0, 10, 20, 30, 40], (908, 536))
# m
r = (619, 751)
label(662, 603, 'm'); title(883, 606, 'MDA-MB-231 Brain'); title(1238, 606, 'MDA-MB-231 MFP')
growth(RG + r, MDA_BR, (phgdh_mda_br_day, phgdh_mda_br_mean, phgdh_mda_br_err), YELL, YELL_E,
       ['Ctrl (n = 8)', 'PHGDH KO\n(n = 7)'], (5, 40), X10_40, Y8, yl_8e6, (721, 608), ('p = 0.0035', (722, 662)))
survival(RS + r, S_MDA, (phgdh_mda_st, phgdh_mda_sv), YELL, ['Ctrl (n = 8)', 'PHGDH KO (n = 7)'],
         (0, 100), S100, (983, 627), ('p = 0.042', (1020, 665)))
growth(RM + r, MDA_MFP, (mda_mfp_ko_day, phgdh_mda_mfp_mean, phgdh_mda_mfp_err), YELL, YELL_E,
       ['Ctrl (n = 5)', 'PHGDH KO\n(n = 5)'], (5, 80), X20_80, Y8, yl_8e7, (1168, 624), ('p = 0.0025', (1171, 704)))
# n
r = (811, 943)
label(662, 795, 'n'); title(883, 797, 'HCC1806 Brain'); title(1236, 797, 'HCC1806 MFP')
growth(RG + r, HCC8, (phgdh_hcc_br_day, phgdh_hcc_br_mean, phgdh_hcc_br_err), YELL, YELL_E,
       ['Ctrl (n = 8)', 'PHGDH KO (n = 9)'], (5, 40), X10_40, [0, 10, 20, 30, 40], yl_4e7, (725, 812),
       ('p = 0.023', (743, 863)))
survival(RS + r, S_HCC8, (phgdh_hcc_st, phgdh_hcc_sv), YELL, ['Ctrl (n = 8)', 'PHGDH KO\n(n = 9)'],
         (0, 80), S80, (911, 886), ('p = 0.0053', (915, 850)))
growth(RM + r, HCC10M, (hcc10_mfp_ctrl_day, phgdh_hcc_mfp_mean, phgdh_hcc_mfp_err), YELL, YELL_E,
       ['Ctrl (n = 10)', 'PHGDH KO\n(n = 10)'], (5, 25), [5, 10, 15, 20, 25], [0, 2, 4, 6], yl_6e6, (1169, 812))
# o
r = (1003, 1136)
label(662, 988, 'o'); title(883, 990, 'EO771 Brain')
growth(RG + r, EO10, (phgdh_eo_day, phgdh_eo_mean, phgdh_eo_err), YELL, YELL_E,
       ['Ctrl (n = 10)', 'Phgdh KO\n(n = 10)'], (5, 20), [5, 10, 15, 20], [0, 1, 2, 3, 4], yl_4e6, (722, 1007))
survival(RS + r, S_EO10, (phgdh_eo_st, phgdh_eo_sv), YELL, ['Ctrl (n = 10)', 'Phgdh KO (n = 10)'],
         (0, 80), S80, (970, 1045))
# p
r = (1195, 1328)
label(662, 1180, 'p'); title(887, 1183, 'MDA-MB-231 Brain'); title(1234, 1183, 'MDA-MB-231 MFP')
growth(RG + r, MDA_BR, (pycr_mda_br_day, pycr_mda_br_mean, pycr_mda_br_err), GRN, GRN_E,
       ['Ctrl (n = 8)', 'PYCR KO\n(n = 8)'], (5, 40), X10_40, Y8, yl_8e6, (715, 1197), ('p = 0.016', (718, 1246)))
survival(RS + r, S_MDA, (pycr_mda_st, pycr_mda_sv), GRN, ['Ctrl (n = 8)', 'PYCR KO (n = 8)'],
         (0, 80), S80, (907, 1303))
growth(RM + r, MDA_MFP, (pycr_mda_mfp_day, pycr_mda_mfp_mean, pycr_mda_mfp_err), GRN, GRN_E,
       ['Ctrl (n = 5)', 'PYCR KO (n = 6)'], (5, 60), [20, 40, 60], Y8, yl_8e7, (1174, 1202))
# q
r = (1388, 1521)
label(662, 1372, 'q'); title(882, 1374, 'HCC1806 Brain'); title(1231, 1374, 'HCC1806 MFP')
growth(RG + r, HCC_BR, (pycr_hcc_br_day, pycr_hcc_br_mean, pycr_hcc_br_err), GRN, GRN_E,
       ['Ctrl (n = 2)', 'PYCR KO\n(n = 3)'], (10, 70), [10, 20, 30, 40, 50, 60, 70], Y8, yl_8e7, (718, 1387))
survival(RS + r, S_HCC2, (pycr_hcc_st, pycr_hcc_sv), GRN, ['Ctrl (n = 2)', 'PYCR KO\n(n = 3)'],
         (0, 80), S80, (907, 1466))
growth(RM + r, HCC_MFP, (pycr_hcc_mfp_day, pycr_hcc_mfp_mean, pycr_hcc_mfp_err), GRN, GRN_E,
       ['Ctrl (n = 6)', 'PYCR KO\n(n = 7)'], (5, 50), X10_50, [0, 0.5, 1.0, 1.5], yl_15e9b, (1172, 1391),
       ('p = 0.0074', (1169, 1448)), xlabel=True)
# r
r = (1580, 1709)
label(662, 1569, 'r'); title(889, 1567, 'EO771 Brain')
growth(RG + r, (eor_ctrl_day, eor_ctrl_mean, eor_ctrl_err), (pycr_eo_day, pycr_eo_mean, pycr_eo_err), GRN, GRN_E,
       ['Ctrl (n = 10)', 'Pycr KO (n = 9)'], (5, 15), [5, 10, 15], [0, 0.5, 1.0, 1.5, 2.0], yl_2e6, (718, 1584),
       xlabel=True)
survival(RS + r, (eor_ctrl_st, eor_ctrl_sv), (pycr_eo_st, pycr_eo_sv), GRN, ['Ctrl (n = 10)', 'Pycr KO (n = 9)'],
         (0, 50), [0, 10, 20, 30, 40, 50], (998, 1606), xlabel=True)

fig.savefig('out.png', dpi=100)
